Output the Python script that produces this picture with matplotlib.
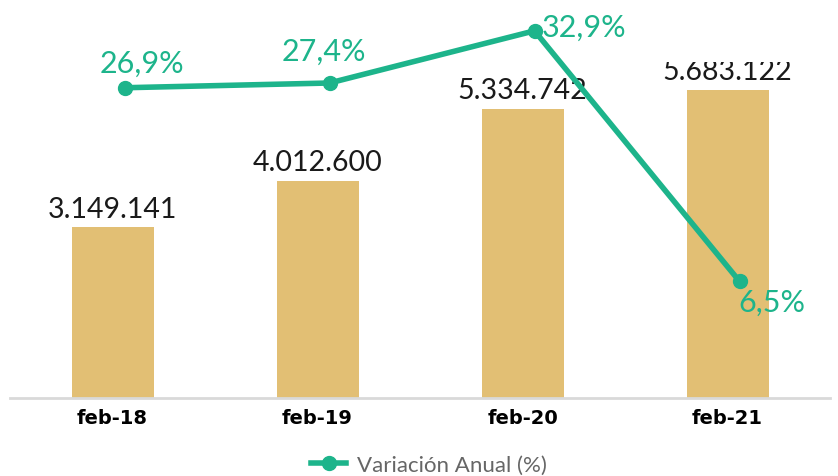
import matplotlib.pyplot as plt
import matplotlib.transforms as mtransforms
from matplotlib.lines import Line2D

### Data
categories = ["feb-18", "feb-19", "feb-20", "feb-21"]
valores = [3149141, 4012600, 5334742, 5683122]
variacion = [26.9, 27.4, 32.9, 6.5]
etiquetas_var = ["26,9%", "27,4%", "32,9%", "6,5%"]

bar_color = "#E2BF74"
line_color = "#1DB48B"

def fmt_miles(v):
    return f"{v:,}".replace(",", ".")

### Plot
W, H = 838, 477
fig = plt.figure(figsize=(W / 100, H / 100), dpi=100)

# bar axes (top edge clips the last label, as in the original)
ax = fig.add_axes([10 / W, 1 - 399 / H, 820 / W, (399 - 63) / H])
x = list(range(len(categories)))
ax.bar(x, valores, width=0.4, color=bar_color, zorder=2)
ax.set_xlim(-0.5, 3.5)
ax.set_ylim(0, 6.2e6)
for xi, v in zip(x, valores):
    ax.annotate(fmt_miles(v), (xi, v), xytext=(0, 4), textcoords="offset points",
                ha="center", va="bottom", fontsize=20.5, family="Lato",
                color="#1a1a1a", clip_on=True, annotation_clip=True)

ax.set_xticks(x)
ax.set_xticklabels(categories, fontsize=14, fontweight="bold", family="DejaVu Sans")
ax.tick_params(axis="x", length=0, pad=7)
ax.set_yticks([])
for s in ["top", "right", "left"]:
    ax.spines[s].set_visible(False)
ax.spines["bottom"].set_color("#D9D9D9")
ax.spines["bottom"].set_linewidth(2)

# line axes on top (series sits slightly right of the bar centres)
ax2 = fig.add_axes([10 / W, 1 - 399 / H, 820 / W, (399 - 10) / H], sharex=ax)
ax2.patch.set_visible(False)
shift = mtransforms.offset_copy(ax2.transData, fig=fig, x=12, y=0, units="dots")
ax2.plot(x, variacion, color=line_color, lw=4, marker="o", ms=10, zorder=3,
         transform=shift)
ax2.set_ylim(-5.8, 35.2)
ax2.axis("off")
offsets = [(17, 25), (-6, 32), (49, 4), (32, -20)]
for xi, v, lab, off in zip(x, variacion, etiquetas_var, offsets):
    ax2.annotate(lab, (xi, v), xycoords=shift, xytext=off, textcoords="offset pixels",
                 ha="center", va="center", fontsize=22, family="Lato",
                 color=line_color)

# legend
handle = Line2D([], [], color=line_color, lw=4, marker="o", ms=10)
fig.legend([handle], ["Variación Anual (%)"], loc="center",
           bbox_to_anchor=(429 / W, 1 - 466 / H), frameon=False,
           prop={"family": "Lato", "size": 16}, labelcolor="#666666",
           handlelength=1.6, handletextpad=0.5)

fig.savefig("out.png", dpi=100, facecolor="white")
